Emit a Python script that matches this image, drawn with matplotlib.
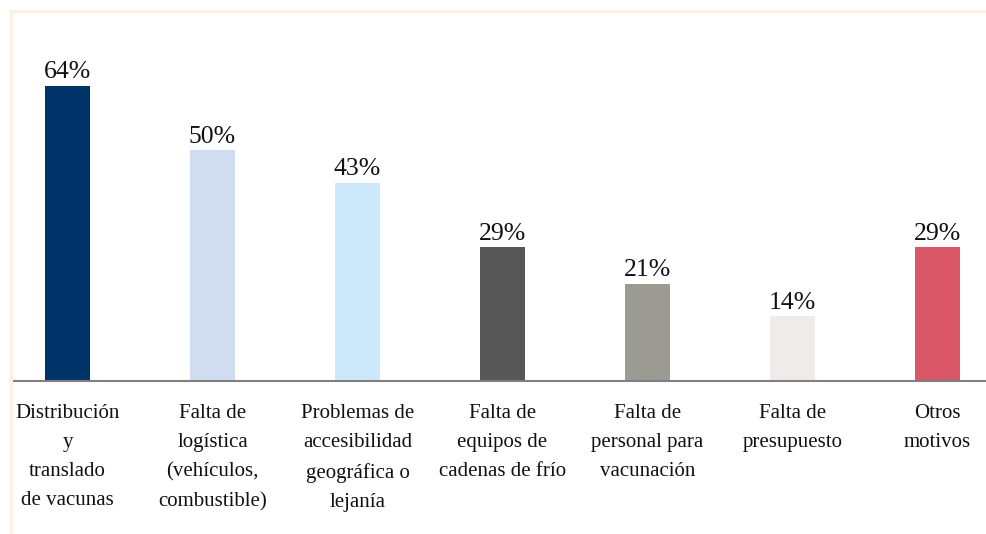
import matplotlib
matplotlib.use("Agg")
import matplotlib.pyplot as plt
from matplotlib.lines import Line2D

categories = [
    "Distribución\ny\ntranslado\nde vacunas",
    "Falta de\nlogística\n(vehículos,\ncombustible)",
    "Problemas de\naccesibilidad\ngeográfica o\nlejanía",
    "Falta de\nequipos de\ncadenas de frío",
    "Falta de\npersonal para\nvacunación",
    "Falta de\npresupuesto",
    "Otros\nmotivos",
]
values = [64, 50, 43, 29, 21, 14, 29]
colors = ["#003468", "#d0dcef", "#cce9fb", "#575757", "#9b9b93", "#efebe8", "#d95766"]

W, H = 986, 534
fig = plt.figure(figsize=(W / 100, H / 100), dpi=100)
plt.rcParams["font.family"] = ["Liberation Serif", "DejaVu Serif"]

# axes box: baseline at y=381 px, top at y=11 px
ax = fig.add_axes([12 / W, (H - 381) / H, 1 - 12 / W, 370 / H])
x = list(range(len(values)))
ax.bar(x, values, width=0.31, color=colors, zorder=2)
ax.set_xlim(-0.383, 6.334)
ax.set_ylim(0, 370 / 4.61)

for xi, v in zip(x, values):
    ax.text(xi, v + 0.6, f"{v}%", ha="center", va="bottom", fontsize=18.5, color="#111111")

for xi, lab in zip(x, categories):
    ax.text(xi, -4.9, lab, ha="center", va="top", fontsize=15, color="#111111",
            linespacing=1.73, clip_on=False)

for s in ["top", "right", "left"]:
    ax.spines[s].set_visible(False)
ax.spines["bottom"].set_color("#808080")
ax.spines["bottom"].set_linewidth(1.5)
ax.set_xticks([])
ax.set_yticks([])

# light frame lines along top and left edges
frame = "#fdefe4"
fig.add_artist(Line2D([10 / W, 1], [1 - 11 / H, 1 - 11 / H], color=frame, lw=2.2,
                      transform=fig.transFigure))
fig.add_artist(Line2D([11 / W, 11 / W], [0, 1 - 11 / H], color=frame, lw=2.2,
                      transform=fig.transFigure))

fig.savefig("out.png", dpi=100)
